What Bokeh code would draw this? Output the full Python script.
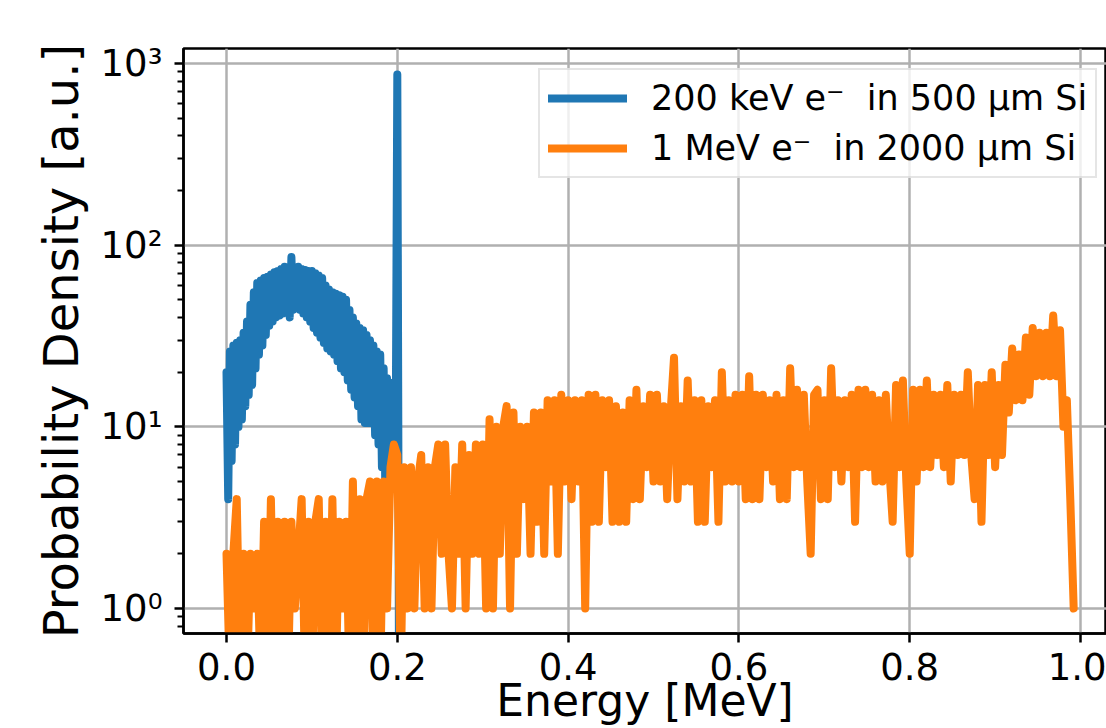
import numpy as np
from bokeh.plotting import figure
from bokeh.models import (FixedTicker, PrintfTickFormatter, CustomJSTickFormatter,
                          Legend, LegendItem, Range1d)
from bokeh.embed import file_html
from bokeh.resources import INLINE

# ---------------- data ----------------
# 200 keV electrons in 500 um Si: histogram bins every 0.002 MeV from 0.000
blue_bin_width = 0.002
blue_density = [20, 4, 26, 6.5, 28, 8, 29, 10, 30, 11,
                33, 13, 38, 15, 47, 17, 55, 21, 62, 25,
                64, 28, 66, 32, 67, 36, 69, 38, 71, 40,
                72, 41, 74, 42, 76, 44, 75, 40, 86, 44,
                75, 46, 76, 44, 74, 42, 73, 40, 72, 38,
                72, 35, 70, 33, 68, 31, 66, 29, 60, 27,
                57, 26, 55, 25, 54, 23, 53, 21, 52, 20,
                50, 18, 44, 16, 40, 14.5, 37, 13, 35, 11,
                34, 10.5, 32, 10.5, 30, 10.5, 28, 9, 26, 8,
                25, 6, 21, 4.5, 18.5, 5, 17.5, 5.5, 17, 6]
# full-energy peak and the empty bin after it
blue_tail_energy = [0.200, 0.202]
blue_tail_density = [870, 0]

# 1 MeV electrons in 2000 um Si: bins every 0.004 MeV from 0.000
orange_bin_width = 0.004
orange_000_020 = [2, 0, 2, 4, 0, 2, 0, 2, 1, 2,
                  0, 3, 0, 4, 0, 3, 0, 3, 0, 3,
                  1, 2, 4, 0, 3, 0, 3, 4, 0, 3,
                  0, 4, 0, 3, 1, 3, 0, 5, 0, 4,
                  0, 4, 5, 0, 5, 0, 5, 1, 6, 8]
orange_020_040 = [7, 0, 6, 1, 6, 1, 5, 7, 1, 6,
                  1, 6, 8, 2, 8, 2, 1, 6, 2, 8,
                  1, 7, 2, 8, 2, 8, 1, 11, 1, 10,
                  2, 10, 13, 1, 12, 2, 10, 4, 10, 2,
                  12, 3, 12, 2, 14, 5, 14, 2, 15, 5]
orange_040_060 = [14, 4, 14, 5, 14, 1, 15, 3, 15, 3,
                  14, 6, 14, 3, 13, 3, 12, 3, 14, 4,
                  16, 4, 13, 6, 15, 5, 15, 5, 13, 4,
                  12, 24, 4, 13, 5, 18, 5, 14, 3, 14,
                  3, 13, 6, 14, 3, 20, 5, 14, 5, 15]
orange_060_080 = [5, 15, 4, 19, 4, 15, 4, 15, 6, 14,
                  5, 15, 4, 14, 4, 21, 6, 16, 6, 15,
                  5, 2, 15, 16, 4, 14, 4, 21, 6, 14,
                  5, 14, 6, 15, 3, 16, 6, 16, 6, 15,
                  5, 14, 5, 15, 6, 3, 17, 6, 18, 5]
orange_080_100 = [2, 16, 5, 16, 6, 18, 6, 15, 7, 15,
                  6, 17, 5, 15, 7, 15, 7, 20, 7, 4,
                  17, 3, 17, 7, 20, 6, 17, 7, 22, 12,
                  27, 14, 25, 14, 31, 15, 35, 19, 33, 19,
                  33, 19, 41, 19, 34, 10, 14, 4, 1]

x_ticks = [0.0, 0.2, 0.4, 0.6, 0.8, 1.0]
y_ticks = [1, 10, 100, 1000]

legend_labels = ["200 keV e\u207b  in 500 \u00b5m Si",
                 "1 MeV e\u207b  in 2000 \u00b5m Si"]

# ---------------- assemble series ----------------
blue_x = np.concatenate([np.arange(len(blue_density)) * blue_bin_width, blue_tail_energy])
blue_y = np.array(blue_density + blue_tail_density, dtype=float)

orange_vals = np.array(orange_000_020 + orange_020_040 + orange_040_060 +
                       orange_060_080 + orange_080_100, dtype=float)
orange_x = np.arange(len(orange_vals)) * orange_bin_width

# empty bins drop below the bottom of the log axis
FLOOR = 0.4
blue_plot = np.where(blue_y > 0, blue_y, FLOOR)
orange_plot = np.where(orange_vals > 0, orange_vals, FLOOR)

FONT = "DejaVu Sans"
BLUE = "#1f77b4"
ORANGE = "#ff7f0e"

p = figure(width=1106, height=728, title=None,
           x_range=Range1d(-0.05035, 1.0304),
           y_range=Range1d(10 ** -0.1376, 10 ** 3.0826),
           y_axis_type="log",
           output_backend="svg", toolbar_location=None,
           min_border_left=183, min_border_right=0,
           min_border_top=48, min_border_bottom=95)
p.background_fill_color = "white"
p.border_fill_color = "white"
p.outline_line_color = "black"
p.outline_line_width = 2.5

r_blue = p.line(blue_x, blue_plot, line_color=BLUE, line_width=8,
                line_join="round", line_cap="round")
r_orange = p.line(orange_x, orange_plot, line_color=ORANGE, line_width=8,
                  line_join="round", line_cap="round")

# axes
xt = FixedTicker(ticks=x_ticks, minor_ticks=[])
minor = [m * 10.0 ** k for k in range(-1, 4) for m in range(2, 10)]
yt = FixedTicker(ticks=y_ticks, minor_ticks=minor)
p.xaxis.ticker = xt
p.yaxis.ticker = yt
p.xgrid.ticker = xt
p.ygrid.ticker = yt
p.xaxis.formatter = PrintfTickFormatter(format="%.1f")
p.yaxis.formatter = CustomJSTickFormatter(code="""
const e = Math.round(Math.log10(tick));
const sup = {"-1":"\u207b\u00b9","0":"\u2070","1":"\u00b9","2":"\u00b2","3":"\u00b3","4":"\u2074"};
return "10" + sup[String(e)];
""")

for ax in (p.xaxis, p.yaxis):
    ax.axis_line_color = "black"
    ax.axis_line_width = 2.5
    ax.major_tick_line_color = "black"
    ax.major_tick_line_width = 2.5
    ax.major_tick_out = 9
    ax.major_tick_in = 0
    ax.major_label_text_font = FONT
    ax.major_label_text_font_size = "37px"
    ax.major_label_text_color = "black"
    ax.axis_label_text_font = FONT
    ax.axis_label_text_font_style = "normal"
    ax.axis_label_text_color = "black"

p.xaxis.minor_tick_line_color = None
p.xaxis.major_label_standoff = 10
p.xaxis.axis_label = "Energy [MeV]"
p.xaxis.axis_label_text_font_size = "44px"
p.xaxis.axis_label_standoff = -8

p.yaxis.minor_tick_line_color = "black"
p.yaxis.minor_tick_line_width = 2
p.yaxis.minor_tick_out = 6
p.yaxis.minor_tick_in = 0
p.yaxis.major_label_standoff = 12
p.yaxis.axis_label = "Probability Density [a.u.]"
p.yaxis.axis_label_text_font_size = "48px"
p.yaxis.axis_label_standoff = 9

p.grid.grid_line_color = "#b0b0b0"
p.grid.grid_line_width = 2.5

legend = Legend(items=[LegendItem(label=legend_labels[0], renderers=[r_blue]),
                       LegendItem(label=legend_labels[1], renderers=[r_orange])],
                location=(355, 455))
legend.label_text_font = FONT
legend.label_text_font_size = "35px"
legend.label_text_color = "black"
legend.glyph_width = 79
legend.glyph_height = 40
legend.label_standoff = 24
legend.padding = 8
legend.spacing = 10
legend.margin = 0
legend.border_line_color = "#cccccc"
legend.border_line_width = 2
legend.background_fill_alpha = 0.8
p.add_layout(legend)

open("out.html", "w").write(file_html(p, INLINE))
